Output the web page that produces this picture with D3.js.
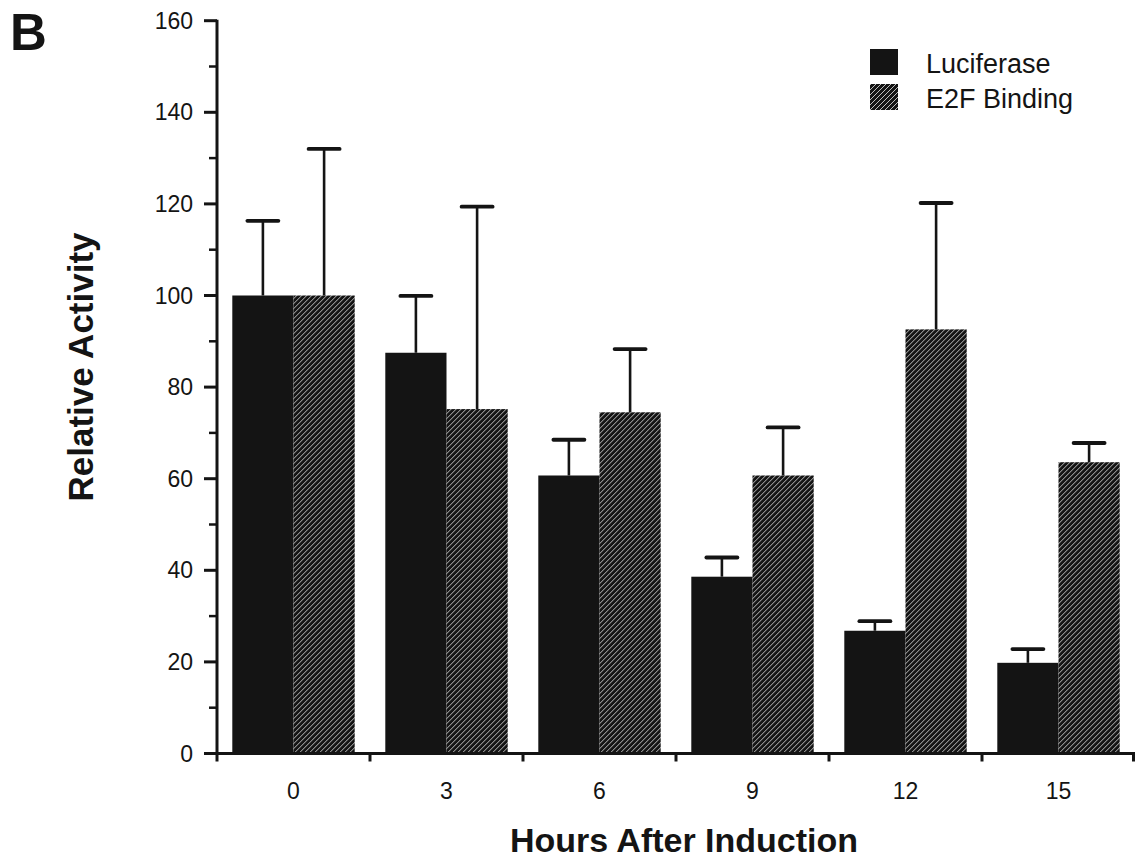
<!DOCTYPE html>
<html>
<head>
<meta charset="utf-8">
<script src="https://cdn.jsdelivr.net/npm/d3@7"></script>
<style>
  html, body { margin: 0; padding: 0; background: #fff; }
  svg { display: block; }
  text { font-family: "Liberation Sans", Arial, Helvetica, sans-serif; fill: #141414; }
</style>
</head>
<body>
<svg id="chart" width="1136" height="864"></svg>
<script>
// ---- data ----
const categories = ["0", "3", "6", "9", "12", "15"];
const seriesNames = ["Luciferase", "E2F Binding"];
const luciferase = [100, 87.5, 60.7, 38.6, 26.8, 19.8];
const luciferaseErr = [16.3, 12.4, 7.8, 4.2, 2.1, 3.0];
const e2fBinding = [100, 75.2, 74.5, 60.7, 92.6, 63.6];
const e2fBindingErr = [32.0, 44.2, 13.8, 10.5, 27.6, 4.2];
const yMajorTicks = [0, 20, 40, 60, 80, 100, 120, 140, 160];
const yMinorTicks = [10, 30, 50, 70, 90, 110, 130, 150];
const xTitle = "Hours After Induction";
const yTitle = "Relative Activity";
const panelLabel = "B";

(function () {
// ---- layout ----
const svg = d3.select("#chart");
const plotLeft = 217, plotRight = 1135, plotTop = 20.7, plotBottom = 753.5;
const ink = "#141414";

const defs = svg.append("defs");
const pat = defs.append("pattern")
  .attr("id", "hatch").attr("patternUnits", "userSpaceOnUse")
  .attr("width", 5).attr("height", 5);
pat.append("rect").attr("width", 5).attr("height", 5).attr("fill", ink);
pat.append("path")
  .attr("d", "M0,5 L5,0 M-1,1 L1,-1 M4,6 L6,4")
  .attr("stroke", "#c8c8c8").attr("stroke-width", 0.95);

const x0 = d3.scaleBand().domain(categories).range([plotLeft, plotRight])
  .paddingInner(0.2).paddingOuter(0.1);
const x1 = d3.scaleBand().domain(seriesNames).range([0, x0.bandwidth()]);
const y = d3.scaleLinear().domain([0, 160]).range([plotBottom, plotTop]);

const fills = { "Luciferase": ink, "E2F Binding": "url(#hatch)" };
const rows = categories.map((c, i) => ({
  cat: c,
  vals: [
    { name: seriesNames[0], v: luciferase[i], e: luciferaseErr[i] },
    { name: seriesNames[1], v: e2fBinding[i], e: e2fBindingErr[i] }
  ]
}));

// bars
const g = svg.append("g");
const grp = g.selectAll("g.grp").data(rows).join("g")
  .attr("transform", d => `translate(${x0(d.cat)},0)`);
grp.selectAll("rect").data(d => d.vals).join("rect")
  .attr("x", d => x1(d.name))
  .attr("width", x1.bandwidth())
  .attr("y", d => y(d.v))
  .attr("height", d => y(0) - y(d.v))
  .attr("fill", d => fills[d.name]);

// error bars
const capW = 31;
grp.selectAll("line.stem").data(d => d.vals).join("line")
  .attr("class", "stem")
  .attr("x1", d => x1(d.name) + x1.bandwidth() / 2)
  .attr("x2", d => x1(d.name) + x1.bandwidth() / 2)
  .attr("y1", d => y(d.v))
  .attr("y2", d => y(d.v + d.e))
  .attr("stroke", ink).attr("stroke-width", 2.6);
grp.selectAll("line.cap").data(d => d.vals).join("line")
  .attr("class", "cap")
  .attr("x1", d => x1(d.name) + x1.bandwidth() / 2 - capW / 2)
  .attr("x2", d => x1(d.name) + x1.bandwidth() / 2 + capW / 2)
  .attr("y1", d => y(d.v + d.e))
  .attr("y2", d => y(d.v + d.e))
  .attr("stroke", ink).attr("stroke-width", 3.8).attr("stroke-linecap", "round");

// y axis
const yAxisG = svg.append("g").attr("transform", `translate(${plotLeft},0)`);
yAxisG.append("line").attr("x1", 0).attr("x2", 0)
  .attr("y1", y(160) - 1).attr("y2", y(0) + 1)
  .attr("stroke", ink).attr("stroke-width", 3);
yAxisG.selectAll("line.maj").data(yMajorTicks).join("line")
  .attr("class", "maj")
  .attr("x1", -13).attr("x2", 0).attr("y1", d => y(d)).attr("y2", d => y(d))
  .attr("stroke", ink).attr("stroke-width", 3);
yAxisG.selectAll("line.min").data(yMinorTicks).join("line")
  .attr("class", "min")
  .attr("x1", -8).attr("x2", 0).attr("y1", d => y(d)).attr("y2", d => y(d))
  .attr("stroke", ink).attr("stroke-width", 2.5);
yAxisG.selectAll("text").data(yMajorTicks).join("text")
  .attr("x", -24).attr("y", d => y(d) + 8)
  .attr("text-anchor", "end")
  .style("font-size", "23px")
  .text(d => d);

// x axis
const xAxisG = svg.append("g");
xAxisG.append("line").attr("x1", plotLeft - 1).attr("x2", plotRight)
  .attr("y1", plotBottom).attr("y2", plotBottom)
  .attr("stroke", ink).attr("stroke-width", 3);
const step = x0.step();
const bounds = categories.map(c => x0(c) - step * x0.paddingOuter()).concat([plotRight - 1.5]);
xAxisG.selectAll("line.tk").data(bounds).join("line")
  .attr("class", "tk")
  .attr("x1", d => d).attr("x2", d => d)
  .attr("y1", plotBottom).attr("y2", plotBottom + 8)
  .attr("stroke", ink).attr("stroke-width", 3);
xAxisG.selectAll("text").data(categories).join("text")
  .attr("x", d => x0(d) + x0.bandwidth() / 2)
  .attr("y", 799)
  .attr("text-anchor", "middle")
  .style("font-size", "23px")
  .text(d => d);

// titles
svg.append("text")
  .attr("x", 684).attr("y", 852)
  .attr("text-anchor", "middle")
  .style("font-size", "34px").style("font-weight", "bold")
  .text(xTitle);
svg.append("text")
  .attr("transform", "translate(93,367) rotate(-90)")
  .attr("text-anchor", "middle")
  .style("font-size", "35px").style("font-weight", "bold")
  .text(yTitle);
svg.append("text")
  .attr("x", 10).attr("y", 50)
  .style("font-size", "51px").style("font-weight", "bold")
  .text(panelLabel);

// legend
const legend = svg.append("g");
const legY = [49, 84];
seriesNames.forEach((s, i) => {
  legend.append("rect").attr("x", 870).attr("y", legY[i])
    .attr("width", 28).attr("height", 26).attr("fill", fills[s]);
  legend.append("text").attr("x", 926).attr("y", legY[i] + 24)
    .style("font-size", "27px").text(s);
});
})();
</script>
</body>
</html>
